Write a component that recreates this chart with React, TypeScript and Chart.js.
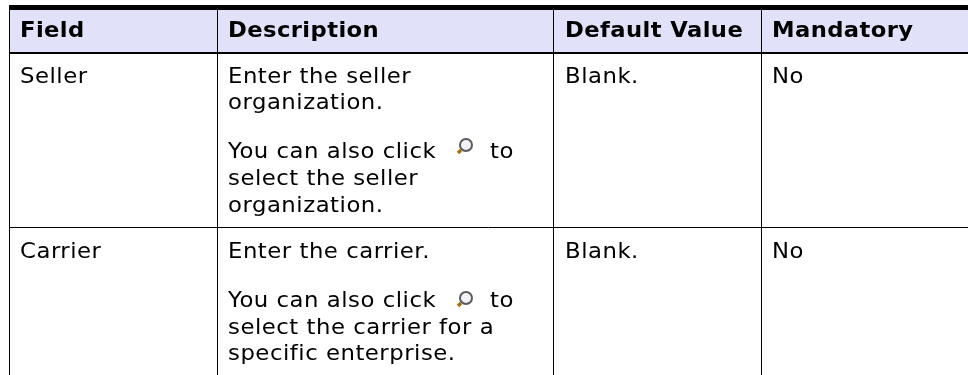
import React, { useEffect, useRef } from "react";
import { Chart, registerables } from "chart.js";

Chart.register(...registerables);

const FONT = '"DejaVu Sans", sans-serif';
const columnEdges = [9, 217, 553, 761];
const ruleRows = [7.5, 53, 228];
const ruleWidths = [5, 2, 1];
const headers = ["Field", "Description", "Default Value", "Mandatory"];
const headerX = [20, 228, 565, 772];
const headerY = 37;
const bodyTexts: [string, number, number][] = [
  ["Seller", 20, 83],
  ["Enter the seller", 228, 83],
  ["organization.", 228, 109],
  ["You can also click", 228, 158],
  ["to", 490, 158],
  ["select the seller", 228, 185],
  ["organization.", 228, 212],
  ["Blank.", 565, 83],
  ["No", 772, 83],
  ["Carrier", 20, 258],
  ["Enter the carrier.", 228, 258],
  ["You can also click", 228, 307],
  ["to", 490, 307],
  ["select the carrier for a", 228, 334],
  ["specific enterprise.", 228, 360],
  ["Blank.", 565, 258],
  ["No", 772, 258],
];
const iconCenters: [number, number][] = [
  [466, 145],
  [466, 298],
];

function wideText(ctx: CanvasRenderingContext2D, t: string, px: number, py: number, sx: number) {
  ctx.save();
  ctx.translate(px, py);
  ctx.scale(sx, 1);
  ctx.fillText(t, 0, 0);
  ctx.restore();
}

export default function App() {
  const ref = useRef<HTMLCanvasElement>(null);
  useEffect(() => {
    const tablePlugin = {
      id: "table",
      beforeDraw(chart: any) {
        const { ctx, scales } = chart;
        const { x, y } = scales;
        ctx.save();
        ctx.fillStyle = "#e1e1f9";
        ctx.fillRect(x.getPixelForValue(9), y.getPixelForValue(10), x.getPixelForValue(968) - x.getPixelForValue(9), y.getPixelForValue(52) - y.getPixelForValue(10));
        ctx.restore();
      },
      afterDraw(chart: any) {
        const { ctx, scales } = chart;
        const { x, y } = scales;
        ctx.save();
        ctx.fillStyle = "#000";
        ctx.textBaseline = "alphabetic";
        ctx.textAlign = "left";
        ctx.letterSpacing = "0.4px";
        ctx.font = `bold 22px ${FONT}`;
        headers.forEach((h, i) => wideText(ctx, h, x.getPixelForValue(headerX[i]), y.getPixelForValue(headerY), 1.03));
        ctx.letterSpacing = "0.5px";
        ctx.font = `22px ${FONT}`;
        bodyTexts.forEach(([t, px, py]) => wideText(ctx, t, x.getPixelForValue(px), y.getPixelForValue(py), 1.035));
        iconCenters.forEach(([cx, cy]) => {
          const px = x.getPixelForValue(cx);
          const py = y.getPixelForValue(cy);
          ctx.strokeStyle = "#a8700f";
          ctx.lineWidth = 3.5;
          ctx.beginPath();
          ctx.moveTo(px - 5, py + 5);
          ctx.lineTo(px - 8, py + 8);
          ctx.stroke();
          ctx.strokeStyle = "#5a5a5a";
          ctx.lineWidth = 2;
          ctx.fillStyle = "#f2f2f8";
          ctx.beginPath();
          ctx.arc(px, py, 6, 0, Math.PI * 2);
          ctx.fill();
          ctx.stroke();
        });
        ctx.restore();
      },
    };
    const chart = new Chart(ref.current!, {
      type: "scatter",
      data: { datasets: [{ data: [], showLine: false }] },
      plugins: [tablePlugin],
      options: {
        animation: false,
        responsive: false,
        layout: { padding: { left: 9, top: 5, right: 0, bottom: 0 } },
        plugins: { legend: { display: false }, tooltip: { enabled: false } },
        scales: {
          x: {
            type: "linear",
            min: 9,
            max: 968,
            afterBuildTicks(axis: any) {
              axis.ticks = columnEdges.map((value) => ({ value }));
            },
            ticks: { display: false },
            border: { display: false },
            grid: { color: "#000", lineWidth: 1, drawTicks: false },
          },
          y: {
            type: "linear",
            reverse: true,
            min: 5,
            max: 375,
            afterBuildTicks(axis: any) {
              axis.ticks = ruleRows.map((value) => ({ value }));
            },
            ticks: { display: false },
            border: { display: false },
            grid: {
              color: "#000",
              drawTicks: false,
              lineWidth: (c: any) => ruleWidths[c.index] ?? 1,
            },
          },
        },
      },
    } as any);
    return () => chart.destroy();
  }, []);
  return (
    <canvas
      ref={ref}
      width={968}
      height={375}
      style={{ position: "absolute", left: 0, top: 0, width: 968, height: 375 }}
    />
  );
}
